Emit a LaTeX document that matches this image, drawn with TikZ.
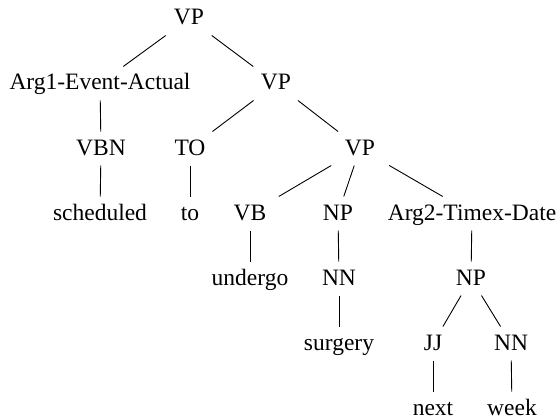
\documentclass[tikz,border=0pt]{standalone}
\usepackage{fontspec}
\setmainfont{Liberation Serif}

\tikzset{
  cat/.style={anchor=base, font=\fontsize{23.5}{28}\selectfont,
    text height=17pt, text depth=4pt, inner xsep=14pt, inner ysep=6.3pt},
  branch/.style={line width=0.9pt}
}

\begin{document}
\begin{tikzpicture}[x=1pt,y=-1pt]
  \useasboundingbox (0,0) rectangle (560,420);
  % rows of the tree
  \node[cat] (vp)      at (189,25)  {VP};
  \node[cat] (arg1)    at (100,90)  {Arg1-Event-Actual};
  \node[cat] (vpb)     at (276,90)  {VP};
  \node[cat] (vbn)     at (101,155) {VBN};
  \node[cat] (to)      at (190,155) {TO};
  \node[cat] (vpc)     at (360,155) {VP};
  \node[cat] (sched)   at (100,220) {scheduled};
  \node[cat] (tow)     at (190,220) {to};
  \node[cat] (vb)      at (250,220) {VB};
  \node[cat] (np)      at (338,220) {NP};
  \node[cat] (arg2)    at (472,220) {Arg2-Timex-Date};
  \node[cat] (undergo) at (250,285) {undergo};
  \node[cat] (nn)      at (339,285) {NN};
  \node[cat] (npb)     at (471,285) {NP};
  \node[cat] (surgery) at (339,350) {surgery};
  \node[cat] (jj)      at (433,350) {JJ};
  \node[cat] (nnb)     at (511,350) {NN};
  \node[cat] (next)    at (433,415) {next};
  \node[cat] (week)    at (512,415) {week};
  % branches
  \foreach \a/\b in {vp/arg1, vp/vpb, arg1/vbn, vbn/sched, vpb/to, vpb/vpc,
      to/tow, vpc/vb, vpc/np, vpc/arg2, vb/undergo, np/nn, nn/surgery,
      arg2/npb, npb/jj, npb/nnb, jj/next, nnb/week}
    \draw[branch] (\a) -- (\b);
\end{tikzpicture}
\end{document}
